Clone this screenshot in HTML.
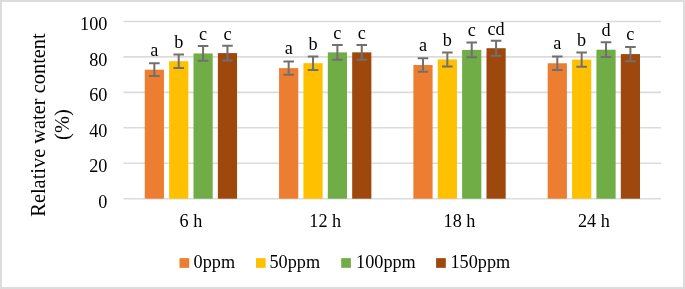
<!DOCTYPE html>
<html><head><meta charset="utf-8"><style>
html,body{margin:0;padding:0;background:#fff;}
body{width:685px;height:289px;overflow:hidden;position:relative;}
.frame{position:absolute;left:0;top:0;width:681px;height:285px;border:2px solid #DCDCDC;}
svg{position:absolute;left:0;top:0;will-change:transform;filter:blur(0.3px);}
text{font-family:"Liberation Serif",serif;font-size:18.2px;fill:#000;}
</style></head><body>
<div class="frame"></div>
<svg width="685" height="289" viewBox="0 0 685 289">
<line x1="123.5" y1="21.45" x2="661.0" y2="21.45" stroke="#DBDBDB" stroke-width="1.6"/>
<line x1="123.5" y1="56.90" x2="661.0" y2="56.90" stroke="#DBDBDB" stroke-width="1.6"/>
<line x1="123.5" y1="92.35" x2="661.0" y2="92.35" stroke="#DBDBDB" stroke-width="1.6"/>
<line x1="123.5" y1="127.80" x2="661.0" y2="127.80" stroke="#DBDBDB" stroke-width="1.6"/>
<line x1="123.5" y1="163.25" x2="661.0" y2="163.25" stroke="#DBDBDB" stroke-width="1.6"/>
<line x1="123.5" y1="198.70" x2="661.0" y2="198.70" stroke="#DBDBDB" stroke-width="1.6"/>
<rect x="144.76" y="69.70" width="19.19" height="129.00" fill="#ED7D31"/>
<rect x="169.13" y="61.20" width="19.19" height="137.50" fill="#FFC000"/>
<rect x="193.50" y="53.45" width="19.19" height="145.25" fill="#70AD47"/>
<rect x="217.86" y="53.10" width="19.19" height="145.60" fill="#9E480E"/>
<rect x="279.07" y="68.15" width="19.19" height="130.55" fill="#ED7D31"/>
<rect x="303.44" y="63.20" width="19.19" height="135.50" fill="#FFC000"/>
<rect x="327.81" y="52.35" width="19.19" height="146.35" fill="#70AD47"/>
<rect x="352.18" y="52.35" width="19.19" height="146.35" fill="#9E480E"/>
<rect x="413.39" y="65.00" width="19.19" height="133.70" fill="#ED7D31"/>
<rect x="437.75" y="59.40" width="19.19" height="139.30" fill="#FFC000"/>
<rect x="462.12" y="49.90" width="19.19" height="148.80" fill="#70AD47"/>
<rect x="486.49" y="48.20" width="19.19" height="150.50" fill="#9E480E"/>
<rect x="547.70" y="63.25" width="19.19" height="135.45" fill="#ED7D31"/>
<rect x="572.07" y="59.60" width="19.19" height="139.10" fill="#FFC000"/>
<rect x="596.43" y="49.70" width="19.19" height="149.00" fill="#70AD47"/>
<rect x="620.80" y="54.10" width="19.19" height="144.60" fill="#9E480E"/>
<path d="M154.35 63.35V76.05M149.05 63.35H159.65M149.05 76.05H159.65" stroke="#707070" stroke-width="2" fill="none"/>
<path d="M178.72 54.40V68.00M173.42 54.40H184.02M173.42 68.00H184.02" stroke="#707070" stroke-width="2" fill="none"/>
<path d="M203.09 46.10V60.80M197.79 46.10H208.39M197.79 60.80H208.39" stroke="#707070" stroke-width="2" fill="none"/>
<path d="M227.46 45.75V60.45M222.16 45.75H232.76M222.16 60.45H232.76" stroke="#707070" stroke-width="2" fill="none"/>
<path d="M288.67 61.60V74.70M283.37 61.60H293.97M283.37 74.70H293.97" stroke="#707070" stroke-width="2" fill="none"/>
<path d="M313.03 56.50V69.90M307.73 56.50H318.33M307.73 69.90H318.33" stroke="#707070" stroke-width="2" fill="none"/>
<path d="M337.40 45.00V59.70M332.10 45.00H342.70M332.10 59.70H342.70" stroke="#707070" stroke-width="2" fill="none"/>
<path d="M361.77 45.00V59.70M356.47 45.00H367.07M356.47 59.70H367.07" stroke="#707070" stroke-width="2" fill="none"/>
<path d="M422.98 58.20V71.80M417.68 58.20H428.28M417.68 71.80H428.28" stroke="#707070" stroke-width="2" fill="none"/>
<path d="M447.35 52.40V66.40M442.05 52.40H452.65M442.05 66.40H452.65" stroke="#707070" stroke-width="2" fill="none"/>
<path d="M471.72 42.60V57.20M466.42 42.60H477.02M466.42 57.20H477.02" stroke="#707070" stroke-width="2" fill="none"/>
<path d="M496.08 40.70V55.70M490.78 40.70H501.38M490.78 55.70H501.38" stroke="#707070" stroke-width="2" fill="none"/>
<path d="M557.29 56.55V69.95M551.99 56.55H562.59M551.99 69.95H562.59" stroke="#707070" stroke-width="2" fill="none"/>
<path d="M581.66 52.50V66.70M576.36 52.50H586.96M576.36 66.70H586.96" stroke="#707070" stroke-width="2" fill="none"/>
<path d="M606.03 42.30V57.10M600.73 42.30H611.33M600.73 57.10H611.33" stroke="#707070" stroke-width="2" fill="none"/>
<path d="M630.40 46.95V61.25M625.10 46.95H635.70M625.10 61.25H635.70" stroke="#707070" stroke-width="2" fill="none"/>
<text x="154.35" y="55.70" text-anchor="middle">a</text>
<text x="178.72" y="47.80" text-anchor="middle">b</text>
<text x="203.09" y="40.00" text-anchor="middle">c</text>
<text x="227.46" y="39.50" text-anchor="middle">c</text>
<text x="288.67" y="53.90" text-anchor="middle">a</text>
<text x="313.03" y="49.50" text-anchor="middle">b</text>
<text x="337.40" y="38.70" text-anchor="middle">c</text>
<text x="361.77" y="38.70" text-anchor="middle">c</text>
<text x="422.98" y="51.00" text-anchor="middle">a</text>
<text x="447.35" y="45.90" text-anchor="middle">b</text>
<text x="471.72" y="35.60" text-anchor="middle">c</text>
<text x="496.08" y="34.80" text-anchor="middle">cd</text>
<text x="557.29" y="49.20" text-anchor="middle">a</text>
<text x="581.66" y="45.70" text-anchor="middle">b</text>
<text x="606.03" y="36.00" text-anchor="middle">d</text>
<text x="630.40" y="40.30" text-anchor="middle">c</text>
<text x="107.4" y="30.45" text-anchor="end">100</text>
<text x="107.4" y="65.90" text-anchor="end">80</text>
<text x="107.4" y="101.35" text-anchor="end">60</text>
<text x="107.4" y="136.80" text-anchor="end">40</text>
<text x="107.4" y="172.25" text-anchor="end">20</text>
<text x="107.4" y="207.70" text-anchor="end">0</text>
<text x="190.91" y="227" text-anchor="middle">6 h</text>
<text x="325.22" y="227" text-anchor="middle">12 h</text>
<text x="459.53" y="227" text-anchor="middle">18 h</text>
<text x="593.84" y="227" text-anchor="middle">24 h</text>
<text transform="translate(44.7,125.0) rotate(-90)" text-anchor="middle" style="font-size:20.4px">Relative water content</text>
<text transform="translate(68.5,124.6) rotate(-90)" text-anchor="middle" style="font-size:20.4px">(%)</text>
<rect x="179.5" y="258.15" width="9.7" height="9.7" fill="#ED7D31"/>
<text x="193.6" y="268">0ppm</text>
<rect x="256.0" y="258.15" width="9.7" height="9.7" fill="#FFC000"/>
<text x="269.5" y="268">50ppm</text>
<rect x="341.2" y="258.15" width="9.7" height="9.7" fill="#70AD47"/>
<text x="356.1" y="268">100ppm</text>
<rect x="436.1" y="258.15" width="9.7" height="9.7" fill="#9E480E"/>
<text x="450.5" y="268">150ppm</text>
</svg>
</body></html>
